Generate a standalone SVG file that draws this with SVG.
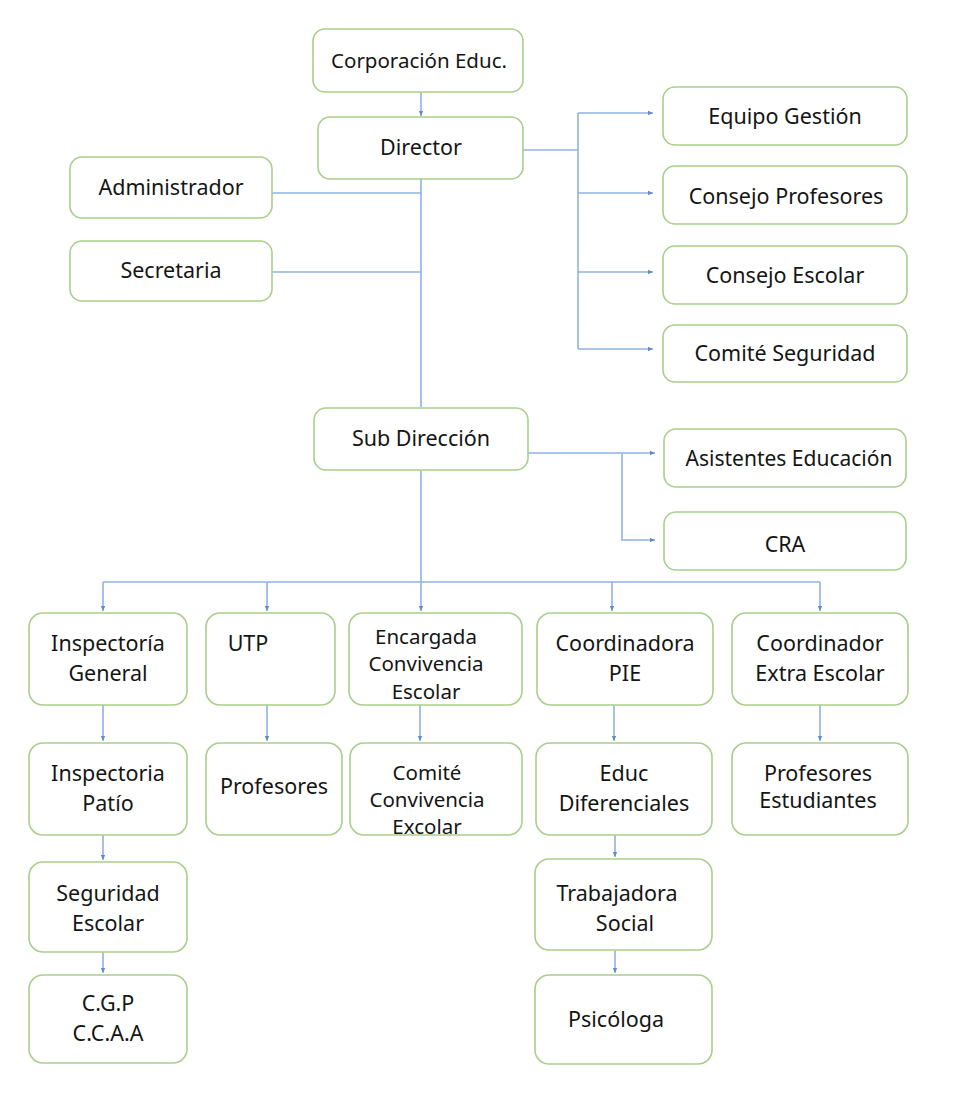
<svg xmlns="http://www.w3.org/2000/svg" width="967" height="1099" viewBox="0 0 967 1099">
<defs>
<style>
.box{fill:#ffffff;stroke:#a9cf8a;stroke-width:1.6}
.t{font-family:"Noto Sans","Open Sans","Liberation Sans",sans-serif;font-size:21.5px;fill:#151515;text-anchor:middle}
.s{font-size:20.5px}
.m{font-size:21px}
.k{font-size:20.5px}
.c{fill:none;stroke:#8fb3e0;stroke-width:1.6}
</style>
<marker id="ah" markerWidth="6" markerHeight="6" refX="5" refY="3" orient="auto" markerUnits="userSpaceOnUse">
<path d="M0,0.8 L5,3 L0,5.2 z" fill="#5f8cc8"/>
</marker>
</defs>
<rect width="967" height="1099" fill="#ffffff"/>
<g id="connectors">
<path class="c" d="M421,92 V116" marker-end="url(#ah)"/>
<path class="c" d="M272,193 H421"/>
<path class="c" d="M272,272 H421"/>
<path class="c" d="M421,179 V407"/>
<path class="c" d="M523,150 H578"/>
<path class="c" d="M578,113 V349"/>
<path class="c" d="M578,113 H653" marker-end="url(#ah)"/>
<path class="c" d="M578,193 H653" marker-end="url(#ah)"/>
<path class="c" d="M578,272 H653" marker-end="url(#ah)"/>
<path class="c" d="M578,349 H653" marker-end="url(#ah)"/>
<path class="c" d="M528,453 H655" marker-end="url(#ah)"/>
<path class="c" d="M622,453 V540 H655" marker-end="url(#ah)"/>
<path class="c" d="M421,470 V582"/>
<path class="c" d="M103,582 H820"/>
<path class="c" d="M103,582 V611" marker-end="url(#ah)"/>
<path class="c" d="M267,582 V611" marker-end="url(#ah)"/>
<path class="c" d="M421,582 V611" marker-end="url(#ah)"/>
<path class="c" d="M612,582 V611" marker-end="url(#ah)"/>
<path class="c" d="M820,582 V611" marker-end="url(#ah)"/>
<path class="c" d="M103,705 V741" marker-end="url(#ah)"/>
<path class="c" d="M267,705 V741" marker-end="url(#ah)"/>
<path class="c" d="M420,705 V741" marker-end="url(#ah)"/>
<path class="c" d="M614,705 V741" marker-end="url(#ah)"/>
<path class="c" d="M820,705 V741" marker-end="url(#ah)"/>
<path class="c" d="M103,835 V860" marker-end="url(#ah)"/>
<path class="c" d="M615,835 V857" marker-end="url(#ah)"/>
<path class="c" d="M103,952 V973" marker-end="url(#ah)"/>
<path class="c" d="M615,950 V973" marker-end="url(#ah)"/>
</g>
<g id="corporacion"><rect class="box" x="313" y="29" width="210" height="63" rx="12"/><text class="t s" x="419" y="68">Corporación Educ.</text></g>
<g id="director"><rect class="box" x="318" y="117" width="205" height="62" rx="12"/><text class="t" x="421" y="155">Director</text></g>
<g id="administrador"><rect class="box" x="70" y="157" width="202" height="61" rx="12"/><text class="t" x="171" y="195">Administrador</text></g>
<g id="secretaria"><rect class="box" x="70" y="241" width="202" height="60" rx="12"/><text class="t" x="171" y="278">Secretaria</text></g>
<g id="equipo-gestion"><rect class="box" x="663" y="87" width="244" height="58" rx="12"/><text class="t" x="785" y="124">Equipo Gestión</text></g>
<g id="consejo-profesores"><rect class="box" x="663" y="166" width="244" height="58" rx="12"/><text class="t" x="786" y="204">Consejo Profesores</text></g>
<g id="consejo-escolar"><rect class="box" x="663" y="246" width="244" height="58" rx="12"/><text class="t" x="785" y="283">Consejo Escolar</text></g>
<g id="comite-seguridad"><rect class="box" x="663" y="325" width="244" height="57" rx="12"/><text class="t" x="785" y="361">Comité Seguridad</text></g>
<g id="sub-direccion"><rect class="box" x="314" y="408" width="214" height="62" rx="12"/><text class="t" x="421" y="446">Sub Dirección</text></g>
<g id="asistentes"><rect class="box" x="664" y="429" width="242" height="58" rx="12"/><text class="t m" x="789" y="466">Asistentes Educación</text></g>
<g id="cra"><rect class="box" x="664" y="512" width="242" height="58" rx="12"/><text class="t" x="785" y="552">CRA</text></g>
<g id="inspectoria-general"><rect class="box" x="29" y="613" width="158" height="92" rx="14"/><text class="t" x="108" y="651">Inspectoría</text><text class="t" x="108" y="681">General</text></g>
<g id="utp"><rect class="box" x="206" y="613" width="129" height="92" rx="14"/><text class="t" x="248" y="651">UTP</text></g>
<g id="encargada"><rect class="box" x="349" y="613" width="173" height="92" rx="14"/><text class="t k" x="426" y="644">Encargada</text><text class="t k" x="426" y="671">Convivencia</text><text class="t k" x="426" y="699">Escolar</text></g>
<g id="coordinadora-pie"><rect class="box" x="537" y="613" width="176" height="92" rx="14"/><text class="t" x="625" y="651">Coordinadora</text><text class="t" x="625" y="681">PIE</text></g>
<g id="coordinador-extra"><rect class="box" x="732" y="613" width="176" height="92" rx="14"/><text class="t" x="820" y="651">Coordinador</text><text class="t" x="820" y="681">Extra Escolar</text></g>
<g id="inspectoria-patio"><rect class="box" x="29" y="743" width="158" height="92" rx="14"/><text class="t" x="108" y="781">Inspectoria</text><text class="t" x="108" y="811">Patío</text></g>
<g id="profesores"><rect class="box" x="206" y="743" width="136" height="92" rx="14"/><text class="t" x="274" y="794">Profesores</text></g>
<g id="comite-convivencia"><rect class="box" x="350" y="743" width="172" height="92" rx="14"/><text class="t k" x="427" y="780">Comité</text><text class="t k" x="427" y="807">Convivencia</text><text class="t k" x="427" y="834">Excolar</text></g>
<g id="educ-diferenciales"><rect class="box" x="536" y="743" width="176" height="92" rx="14"/><text class="t" x="624" y="781">Educ</text><text class="t" x="624" y="811">Diferenciales</text></g>
<g id="profesores-estudiantes"><rect class="box" x="732" y="743" width="176" height="92" rx="14"/><text class="t" x="818" y="781">Profesores</text><text class="t" x="818" y="808">Estudiantes</text></g>
<g id="seguridad-escolar"><rect class="box" x="29" y="862" width="158" height="90" rx="14"/><text class="t" x="108" y="901">Seguridad</text><text class="t" x="108" y="931">Escolar</text></g>
<g id="cgp"><rect class="box" x="29" y="975" width="158" height="88" rx="14"/><text class="t" x="108" y="1011">C.G.P</text><text class="t" x="108" y="1041">C.C.A.A</text></g>
<g id="trabajadora-social"><rect class="box" x="535" y="859" width="177" height="91" rx="14"/><text class="t" x="617" y="901">Trabajadora</text><text class="t" x="625" y="931">Social</text></g>
<g id="psicologa"><rect class="box" x="535" y="975" width="177" height="89" rx="14"/><text class="t" x="616" y="1027">Psicóloga</text></g>
</svg>
